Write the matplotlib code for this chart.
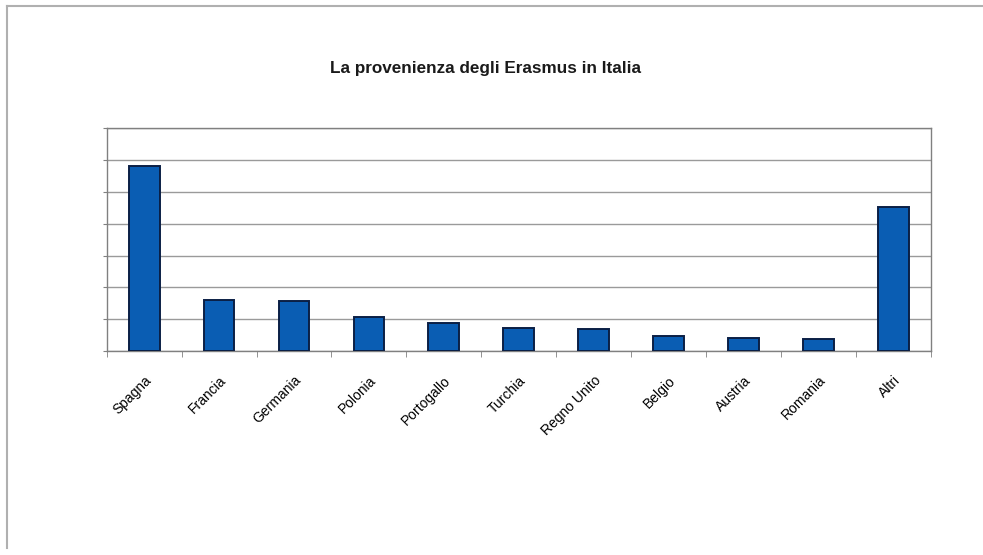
import matplotlib
matplotlib.use("Agg")
import matplotlib.pyplot as plt
from matplotlib.lines import Line2D
import numpy as np

categories = ["Spagna", "Francia", "Germania", "Polonia", "Portogallo", "Turchia",
              "Regno Unito", "Belgio", "Austria", "Romania", "Altri"]
values = [5.82, 1.60, 1.57, 1.07, 0.87, 0.73, 0.70, 0.47, 0.42, 0.38, 4.52]
title = "La provenienza degli Erasmus in Italia"

plt.rcParams['font.family'] = ['Liberation Sans', 'DejaVu Sans']

fig = plt.figure(figsize=(9.83, 5.55), dpi=100)
fig.patch.set_facecolor('white')

# outer frame lines (left and top)
fig.add_artist(Line2D([7/983, 7/983], [1 - 548/555, 1 - 6/555], transform=fig.transFigure,
                      color='#b0b0b0', lw=1.5))
fig.add_artist(Line2D([7/983, 1], [1 - 6/555, 1 - 6/555], transform=fig.transFigure,
                      color='#b0b0b0', lw=1.5))

ax = fig.add_axes([106.7/983, 1 - 351/555, (930.7 - 106.7)/983, (351 - 128.3)/555])
x = np.arange(len(categories))
ax.bar(x, values, width=0.41, color='#0a5db3', edgecolor='#0b1f45', linewidth=1.4, zorder=3)
ax.set_xlim(-0.5, len(categories) - 0.5)
ax.set_ylim(0, 7)
ax.set_yticks(np.arange(0, 8, 1))
ax.set_yticklabels([])
ax.yaxis.grid(True, color='#9a9a9a', linewidth=1.0, zorder=0)
ax.tick_params(axis='y', length=3, color='#808080')
ax.set_xticks(x)
ax.set_xticklabels(categories, rotation=45, ha='right', va='top',
                   rotation_mode='anchor', fontsize=10, color='#000000')
ax.tick_params(axis='x', which='major', length=0, pad=16)
ax.set_xticks(np.arange(-0.5, len(categories), 1), minor=True)
ax.tick_params(axis='x', which='minor', length=4, color='#808080')
for s in ax.spines.values():
    s.set_color('#808080')
    s.set_linewidth(1.0)

fig.text(486/983, 1 - 68/555, title, ha='center', va='center', fontsize=12.3,
         fontweight='bold', color='#1a1a1a')

fig.savefig("out.png", dpi=100, facecolor='white')
